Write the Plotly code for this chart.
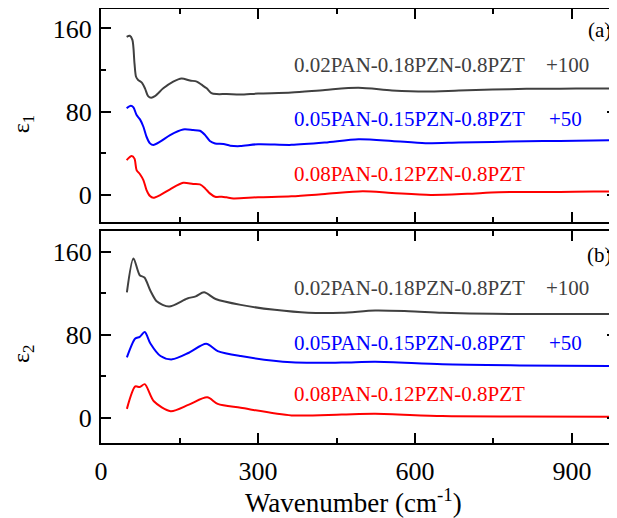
import plotly.graph_objects as go

# ---------------- data (offsets already included, as plotted) ----------------
# epsilon_1 panel (a)
e1_x_black = [49, 55, 60, 64, 67, 71, 78, 84, 90, 96, 103, 119, 138, 154, 170, 183, 192, 202, 211, 221, 240,
              266, 300, 364, 428, 492, 556, 620, 684, 748, 813, 877, 941, 985]
e1_y_black = [152, 153, 149, 126.5, 113.6, 110.5, 108, 102.5, 95, 93.5, 95, 102.5, 109, 112, 110, 109, 106,
              102.5, 98, 97, 97, 96.5, 97.5, 98.5, 101, 103, 100.5, 99.4, 100.4, 101.3, 102, 102.2, 102.3, 102.3]

e1_x_blue = [49, 57, 62, 68, 74.5, 81, 87, 93.6, 100, 113, 132, 157, 176, 189, 199, 208, 218, 234, 247, 266,
             300, 364, 428, 492, 556, 620, 684, 748, 813, 877, 941, 985]
e1_y_blue = [83.3, 85.8, 84.2, 76.8, 72.7, 65.6, 56, 49.6, 48, 51.2, 57.6, 63, 62.4, 61.8, 57.6, 52, 49.6, 49,
             47.4, 47, 48.8, 48.2, 50.4, 53.6, 52, 49.8, 50.5, 51, 51.7, 52, 52.4, 52.6]

e1_x_red = [49, 58.6, 64, 68, 74.5, 81, 87, 93.6, 100, 113, 132, 157, 176, 189, 199, 208, 218, 231, 240, 253,
            300, 364, 428, 500, 556, 630, 700, 760, 877, 941, 985]
e1_y_red = [33.6, 37.5, 35, 24, 20, 14.4, 4.8, -1, -2.6, 0, 5.5, 11.8, 10.6, 10.2, 6.4, 1.6, -1.6, -1.6, -2.2,
            -3.2, -2.1, -1.2, 1, 3.6, 2, 0.1, 1.2, 2.7, 3, 3.3, 3.3]

# epsilon_2 panel (b)
e2_x_black = [49.5, 62, 74, 83, 94.4, 107, 130, 165, 181, 197, 219, 267, 332, 396, 460, 524, 588, 652, 748,
              877, 985]
e2_y_black = [120.9, 153.6, 137.4, 135.2, 122.5, 112, 107.2, 115, 117, 120.9, 114.5, 108.8, 104, 101.2, 101.2,
              103.4, 102.7, 101.2, 100.2, 99.9, 99.9]

e2_x_blue = [49.5, 65.5, 74, 83.6, 94.4, 113.7, 136, 168, 201, 223, 267, 364, 460, 524, 652, 800, 985]
e2_y_blue = [58.2, 76.4, 78, 82.7, 71.6, 59.5, 56.3, 62.7, 71.3, 64.3, 59.5, 53.4, 53.2, 54, 51.5, 50.5, 49.9]

e2_x_red = [49.5, 65.5, 74, 83.6, 101, 133, 168, 203, 223, 267, 364, 460, 524, 652, 800, 985]
e2_y_red = [8.6, 30.2, 29.6, 32.4, 15.9, 6.4, 12.7, 19.7, 13.4, 9.6, 2.3, 3.2, 3.9, 1.6, 1.2, 1.0]

series_names = ["0.02PAN-0.18PZN-0.8PZT", "0.05PAN-0.15PZN-0.8PZT", "0.08PAN-0.12PZN-0.8PZT"]
offset_labels = ["+100", "+50", ""]
colors = ["#404040", "#0000ff", "#ff0000"]

x_ticks = [0, 300, 600, 900]
y_ticks = [0, 80, 160]
x_range = [0, 986]
y_range_top = [-25.6, 178.7]
y_range_bot = [-24.3, 180]

# label positions (data coords)
label_x = 365
offset_x = [847, 853]
label_y_top = [125, 73, 20]
label_y_bot = [124.7, 72.3, 22.7]

FONT = "Liberation Serif"

fig = go.Figure()

top = [(e1_x_black, e1_y_black), (e1_x_blue, e1_y_blue), (e1_x_red, e1_y_red)]
bot = [(e2_x_black, e2_y_black), (e2_x_blue, e2_y_blue), (e2_x_red, e2_y_red)]

for (xs, ys), c, n in zip(top, colors, series_names):
    fig.add_trace(go.Scatter(x=xs, y=ys, mode="lines", line=dict(color=c, width=2, shape="spline", smoothing=0.8),
                             name=n, showlegend=False, xaxis="x", yaxis="y"))
for (xs, ys), c, n in zip(bot, colors, series_names):
    fig.add_trace(go.Scatter(x=xs, y=ys, mode="lines", line=dict(color=c, width=2, shape="spline", smoothing=0.8),
                             name=n, showlegend=False, xaxis="x2", yaxis="y2"))

axis_common = dict(showline=True, linecolor="black", linewidth=2, ticks="inside", ticklen=10, tickwidth=1.5,
                   tickcolor="black", showgrid=False, zeroline=False,
                   tickfont=dict(family=FONT, size=26, color="black"))
minor_x = dict(ticks="inside", ticklen=5, tickwidth=1.5, tickcolor="black", dtick=150, showgrid=False)
minor_y = dict(ticks="inside", ticklen=5, tickwidth=1.5, tickcolor="black", dtick=40, showgrid=False)

top_dom = [0.5099, 1.0]
bot_dom = [0.0, 0.4885]

fig.update_layout(
    width=609, height=510,
    margin=dict(l=93, r=0, t=1, b=75),
    paper_bgcolor="white", plot_bgcolor="white",
    font=dict(family=FONT, size=20, color="black"),
    xaxis=dict(**axis_common, range=x_range, tickvals=x_ticks, showticklabels=False, mirror="ticks",
               anchor="y", minor=minor_x),
    yaxis=dict(**axis_common, range=y_range_top, tickvals=y_ticks, domain=top_dom, anchor="x",
               minor=minor_y, ticklabelstandoff=2),
    yaxis3=dict(range=y_range_top, tickvals=y_ticks, overlaying="y", side="right", anchor="x",
                showline=False, ticks="inside", ticklen=10, tickwidth=1.5, tickcolor="black",
                showticklabels=False, showgrid=False, zeroline=False, minor=minor_y),
    xaxis2=dict(**axis_common, range=x_range, tickvals=x_ticks, mirror="ticks", anchor="y2", matches="x",
                minor=minor_x, ticklabelstandoff=4),
    yaxis2=dict(**axis_common, range=y_range_bot, tickvals=y_ticks, domain=bot_dom, anchor="x2",
                minor=minor_y, ticklabelstandoff=2),
    yaxis4=dict(range=y_range_bot, tickvals=y_ticks, overlaying="y2", side="right", anchor="x2",
                showline=False, ticks="inside", ticklen=10, tickwidth=1.5, tickcolor="black",
                showticklabels=False, showgrid=False, zeroline=False, minor=minor_y),
)

# dummy traces so the right-side tick axes are drawn
fig.add_trace(go.Scatter(x=[None], y=[None], xaxis="x", yaxis="y3", showlegend=False, hoverinfo="skip"))
fig.add_trace(go.Scatter(x=[None], y=[None], xaxis="x2", yaxis="y4", showlegend=False, hoverinfo="skip"))

ann = []
for xr, yr, ys in [("x", "y", label_y_top), ("x2", "y2", label_y_bot)]:
    for i in range(3):
        ann.append(dict(x=label_x, y=ys[i], xref=xr, yref=yr, text=series_names[i], showarrow=False,
                        xanchor="left", yanchor="middle", font=dict(family=FONT, size=21, color=colors[i])))
        if offset_labels[i]:
            ann.append(dict(x=offset_x[i], y=ys[i], xref=xr, yref=yr, text=offset_labels[i], showarrow=False,
                            xanchor="left", yanchor="middle", font=dict(family=FONT, size=21, color=colors[i])))

ann.append(dict(x=952, y=158.5, xref="x", yref="y", text="(a)", showarrow=False, xanchor="center",
                yanchor="middle", font=dict(family=FONT, size=21, color="black")))
ann.append(dict(x=952, y=157, xref="x2", yref="y2", text="(b)", showarrow=False, xanchor="center",
                yanchor="middle", font=dict(family=FONT, size=21, color="black")))

ann.append(dict(x=0, y=(top_dom[0] + top_dom[1]) / 2, xref="paper", yref="paper", text="ε<sub>1</sub>",
                textangle=-90, showarrow=False, xanchor="center", yanchor="middle", xshift=-78, yshift=-9,
                font=dict(family=FONT, size=24, color="black")))
ann.append(dict(x=0, y=(bot_dom[0] + bot_dom[1]) / 2, xref="paper", yref="paper", text="ε<sub>2</sub>",
                textangle=-90, showarrow=False, xanchor="center", yanchor="middle", xshift=-78, yshift=-17,
                font=dict(family=FONT, size=24, color="black")))
ann.append(dict(x=(353 - 101) / 516, y=0, xref="paper", yref="paper", text="Wavenumber (cm<sup>-1</sup>)",
                showarrow=False, xanchor="center", yanchor="middle", yshift=-58,
                font=dict(family=FONT, size=27, color="black")))

fig.update_layout(annotations=ann)
fig.write_html("out.html")
